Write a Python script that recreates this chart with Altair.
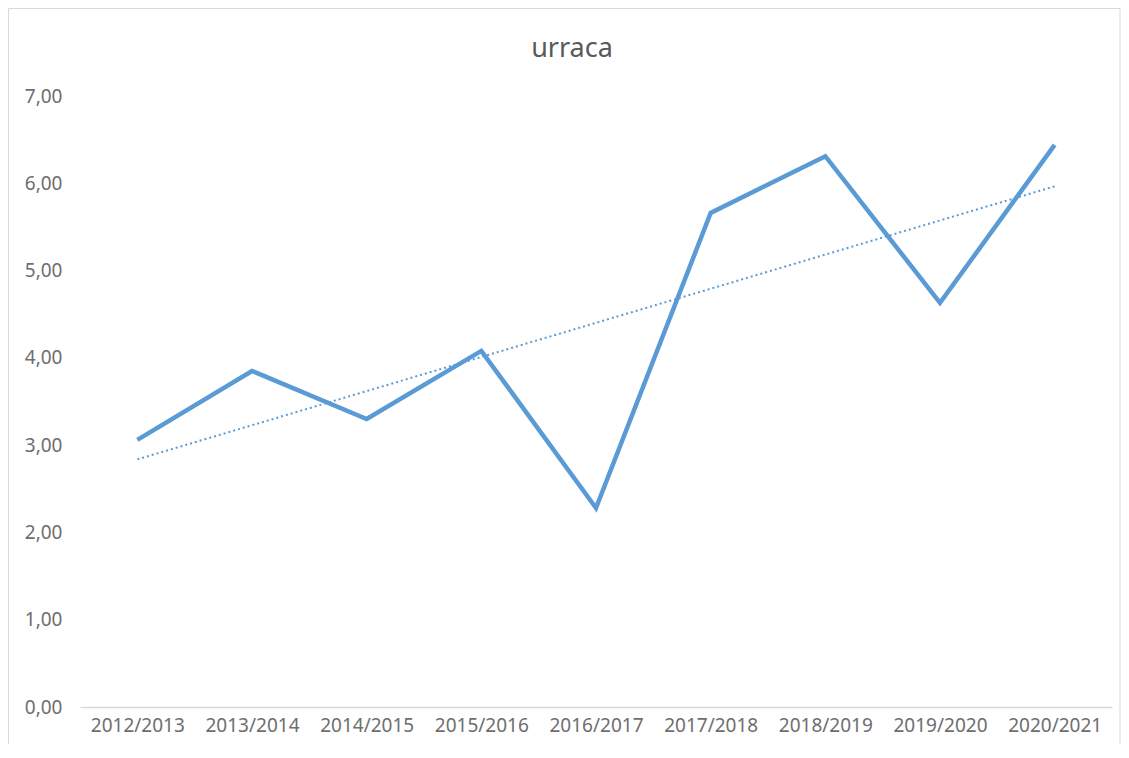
import altair as alt
import pandas as pd

seasons = ["2012/2013", "2013/2014", "2014/2015", "2015/2016", "2016/2017",
           "2017/2018", "2018/2019", "2019/2020", "2020/2021"]
values = [3.06, 3.85, 3.30, 4.08, 2.28, 5.66, 6.31, 4.63, 6.44]
idx = list(range(len(seasons)))
title_text = "urraca"

df = pd.DataFrame({"season": seasons, "value": values, "idx": idx})

FONT = "Noto Sans"
BLUE = "#5B9BD5"
GREY = "#6e6e6e"

x_enc = alt.X("season:N", sort=seasons, title=None,
              scale=alt.Scale(type="point", padding=0.5),
              axis=alt.Axis(labelAngle=0, labelAlign="center", ticks=False, grid=False,
                            domainColor="#d9d9d9", domainWidth=1.5,
                            labelPadding=18, labelFontSize=19,
                            labelColor=GREY, labelFont=FONT))
y_enc = alt.Y("value:Q", title=None,
              scale=alt.Scale(domain=[0, 7], nice=False),
              axis=alt.Axis(values=[0, 1, 2, 3, 4, 5, 6, 7], domain=False,
                            ticks=False, grid=False, labelPadding=18,
                            labelFontSize=19, labelColor=GREY, labelFont=FONT,
                            labelExpr="replace(format(datum.value, '.2f'), '.', ',')"))

one = pd.DataFrame({"t": [title_text]})

frame = alt.Chart(one).mark_rect(
    fillOpacity=0, stroke="#d9d9d9", strokeWidth=1
).encode(x=alt.value(-71.5), x2=alt.value(1040), y=alt.value(-87.5), y2=alt.value(700))

title = alt.Chart(one).mark_text(
    font=FONT, fontSize=27, color="#595959", align="center", baseline="middle"
).encode(text="t:N", x=alt.value(492), y=alt.value(-47))

line = alt.Chart(df).mark_line(color=BLUE, strokeWidth=4.5, strokeJoin="miter").encode(
    x=x_enc, y=y_enc)

trend = alt.Chart(df).transform_regression("idx", "value").transform_lookup(
    lookup="idx", from_=alt.LookupData(df, "idx", ["season"])
).mark_line(color=BLUE, strokeWidth=2, strokeDash=[2, 3]).encode(
    x=alt.X("season:N", sort=seasons), y="value:Q")

chart = alt.layer(frame, title, trend, line).properties(
    width=1032, height=611,
    background="white",
    autosize=alt.AutoSizeParams(type="none"),
    padding={"left": 72, "top": 88, "right": 9, "bottom": 37},
).configure_view(strokeWidth=0, stroke=None)

chart.save("out.html", embed_options={"renderer": "svg", "actions": False})
